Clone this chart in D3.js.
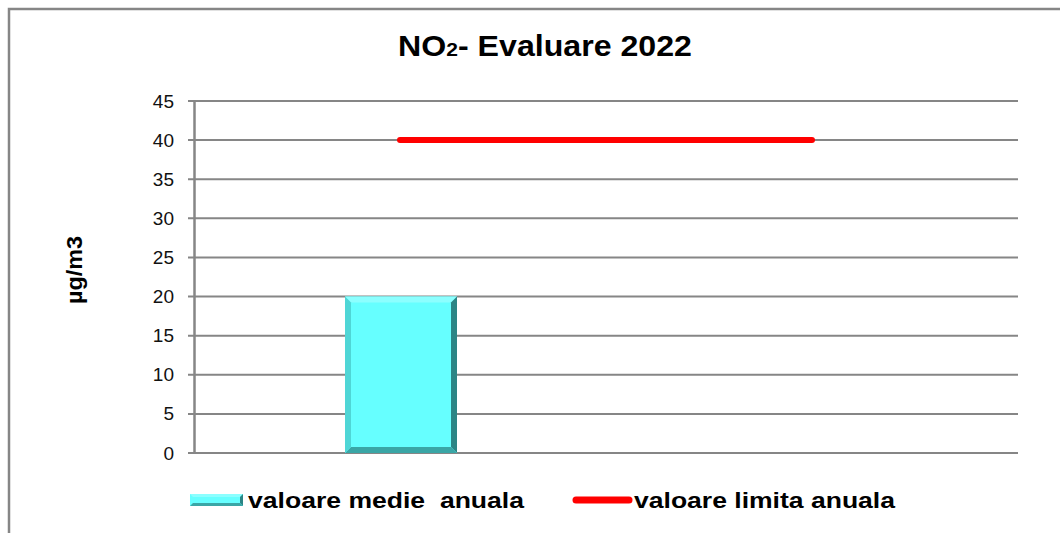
<!DOCTYPE html>
<html>
<head>
<meta charset="utf-8">
<script src="https://cdn.jsdelivr.net/npm/d3@7"></script>
<style>
  body { margin: 0; background: #fff; }
  svg { display: block; font-family: "Liberation Sans", Arial, sans-serif; }
</style>
</head>
<body>
<div id="chart"></div>
<script>
"use strict";

// chart data
const categories = ["A", "B"];
const medieValues = [20, null];
const limitaValues = [40, 40];
const yTicks = [0, 5, 10, 15, 20, 25, 30, 35, 40, 45];
const seriesNames = ["valoare medie  anuala", "valoare limita anuala"];

const width = 1060, height = 533;
const margin = {left: 194, right: 42, top: 101, bottom: 80};
const gridColor = "#868686";

const svg = d3.select("#chart").append("svg")
    .attr("width", width)
    .attr("height", height);

// outer frame (runs off the right and bottom edges)
svg.append("rect")
    .attr("x", 9).attr("y", 9)
    .attr("width", width + 20).attr("height", height + 20)
    .attr("fill", "none")
    .attr("stroke", gridColor)
    .attr("stroke-width", 2.5);

const x = d3.scaleBand()
    .domain(categories)
    .range([margin.left, width - margin.right]);

const y = d3.scaleLinear()
    .domain([0, 45])
    .range([height - margin.bottom, margin.top]);

// gridlines
svg.append("g")
    .selectAll("line")
    .data(yTicks)
    .join("line")
    .attr("x1", margin.left - 6)
    .attr("x2", width - margin.right)
    .attr("y1", d => y(d))
    .attr("y2", d => y(d))
    .attr("stroke", gridColor)
    .attr("stroke-width", 2);

// y axis
const yAxis = svg.append("g")
    .attr("transform", `translate(${margin.left},0)`)
    .call(d3.axisLeft(y).tickValues(yTicks).tickSize(0).tickPadding(20));
yAxis.attr("font-size", 19).attr("font-family", null);
yAxis.select(".domain")
    .attr("stroke", gridColor)
    .attr("stroke-width", 2.5);
yAxis.selectAll("text")
    .attr("fill", "#111");

// bevelled bars
const barW = 112;
const bev = 6;
const barData = categories
    .map((c, i) => ({cat: c, v: medieValues[i]}))
    .filter(d => d.v != null);

function bevel(g, x0, y0, w, h, b, withLeft) {
    g.append("rect")
        .attr("x", x0).attr("y", y0)
        .attr("width", w).attr("height", h)
        .attr("fill", "#66ffff");
    const x1 = x0 + w, y1 = y0 + h;
    const polys = [
        {p: [[x0, y0], [x1, y0], [x1 - b, y0 + b], [x0 + b, y0 + b]], c: "#8cffff"},
        {p: [[x1, y0], [x1, y1], [x1 - b, y1 - b], [x1 - b, y0 + b]], c: "#2b8585"},
        {p: [[x0, y1], [x0 + b, y1 - b], [x1 - b, y1 - b], [x1, y1]], c: "#3aa6a6"}
    ];
    if (withLeft) {
        polys.push({p: [[x0, y0], [x0 + b, y0 + b], [x0 + b, y1 - b], [x0, y1]], c: "#4fd6d6"});
    }
    g.selectAll("polygon")
        .data(polys)
        .join("polygon")
        .attr("points", d => d.p.map(pt => pt.join(",")).join(" "))
        .attr("fill", d => d.c);
}

svg.append("g").selectAll("g")
    .data(barData)
    .join("g")
    .each(function (d) {
        const cx = x(d.cat) + x.bandwidth() / 2;
        bevel(d3.select(this), cx - barW / 2 + 1, y(d.v), barW, y(0) - y(d.v), bev, true);
    });

// limit line
const line = d3.line()
    .x((d, i) => x(categories[i]) + x.bandwidth() / 2)
    .y(d => y(d));

svg.append("path")
    .datum(limitaValues)
    .attr("d", line)
    .attr("fill", "none")
    .attr("stroke", "#ff0000")
    .attr("stroke-width", 6)
    .attr("stroke-linecap", "round");

// title, stretched sideways like the source image
const titleG = svg.append("g");
const title = titleG.append("text")
    .attr("text-anchor", "middle")
    .attr("font-size", 29)
    .attr("font-weight", "bold");
title.append("tspan").text("NO");
title.append("tspan").attr("font-size", 19).text("2");
title.append("tspan").text("- Evaluare 2022");
const tw = title.node().getBBox().width;
titleG.attr("transform", `translate(545,56) scale(${294 / tw},1)`);

// y axis title
svg.append("text")
    .attr("transform", "translate(82,270) rotate(-90)")
    .attr("text-anchor", "middle")
    .attr("font-size", 22)
    .attr("font-weight", "bold")
    .attr("textLength", 68)
    .attr("lengthAdjust", "spacingAndGlyphs")
    .text("µg/m3");

// legend
const legend = svg.append("g");
bevel(legend.append("g"), 190, 494, 53, 12, 3, false);
legend.append("text")
    .attr("x", 248).attr("y", 508)
    .attr("font-size", 22)
    .attr("font-weight", "bold")
    .attr("textLength", 276)
    .attr("lengthAdjust", "spacingAndGlyphs")
    .style("white-space", "pre")
    .text(seriesNames[0]);

legend.append("line")
    .attr("x1", 576).attr("x2", 629)
    .attr("y1", 500).attr("y2", 500)
    .attr("stroke", "#ff0000")
    .attr("stroke-width", 7)
    .attr("stroke-linecap", "round");
legend.append("text")
    .attr("x", 634).attr("y", 508)
    .attr("font-size", 22)
    .attr("font-weight", "bold")
    .attr("textLength", 261)
    .attr("lengthAdjust", "spacingAndGlyphs")
    .text(seriesNames[1]);
</script>
</body>
</html>
